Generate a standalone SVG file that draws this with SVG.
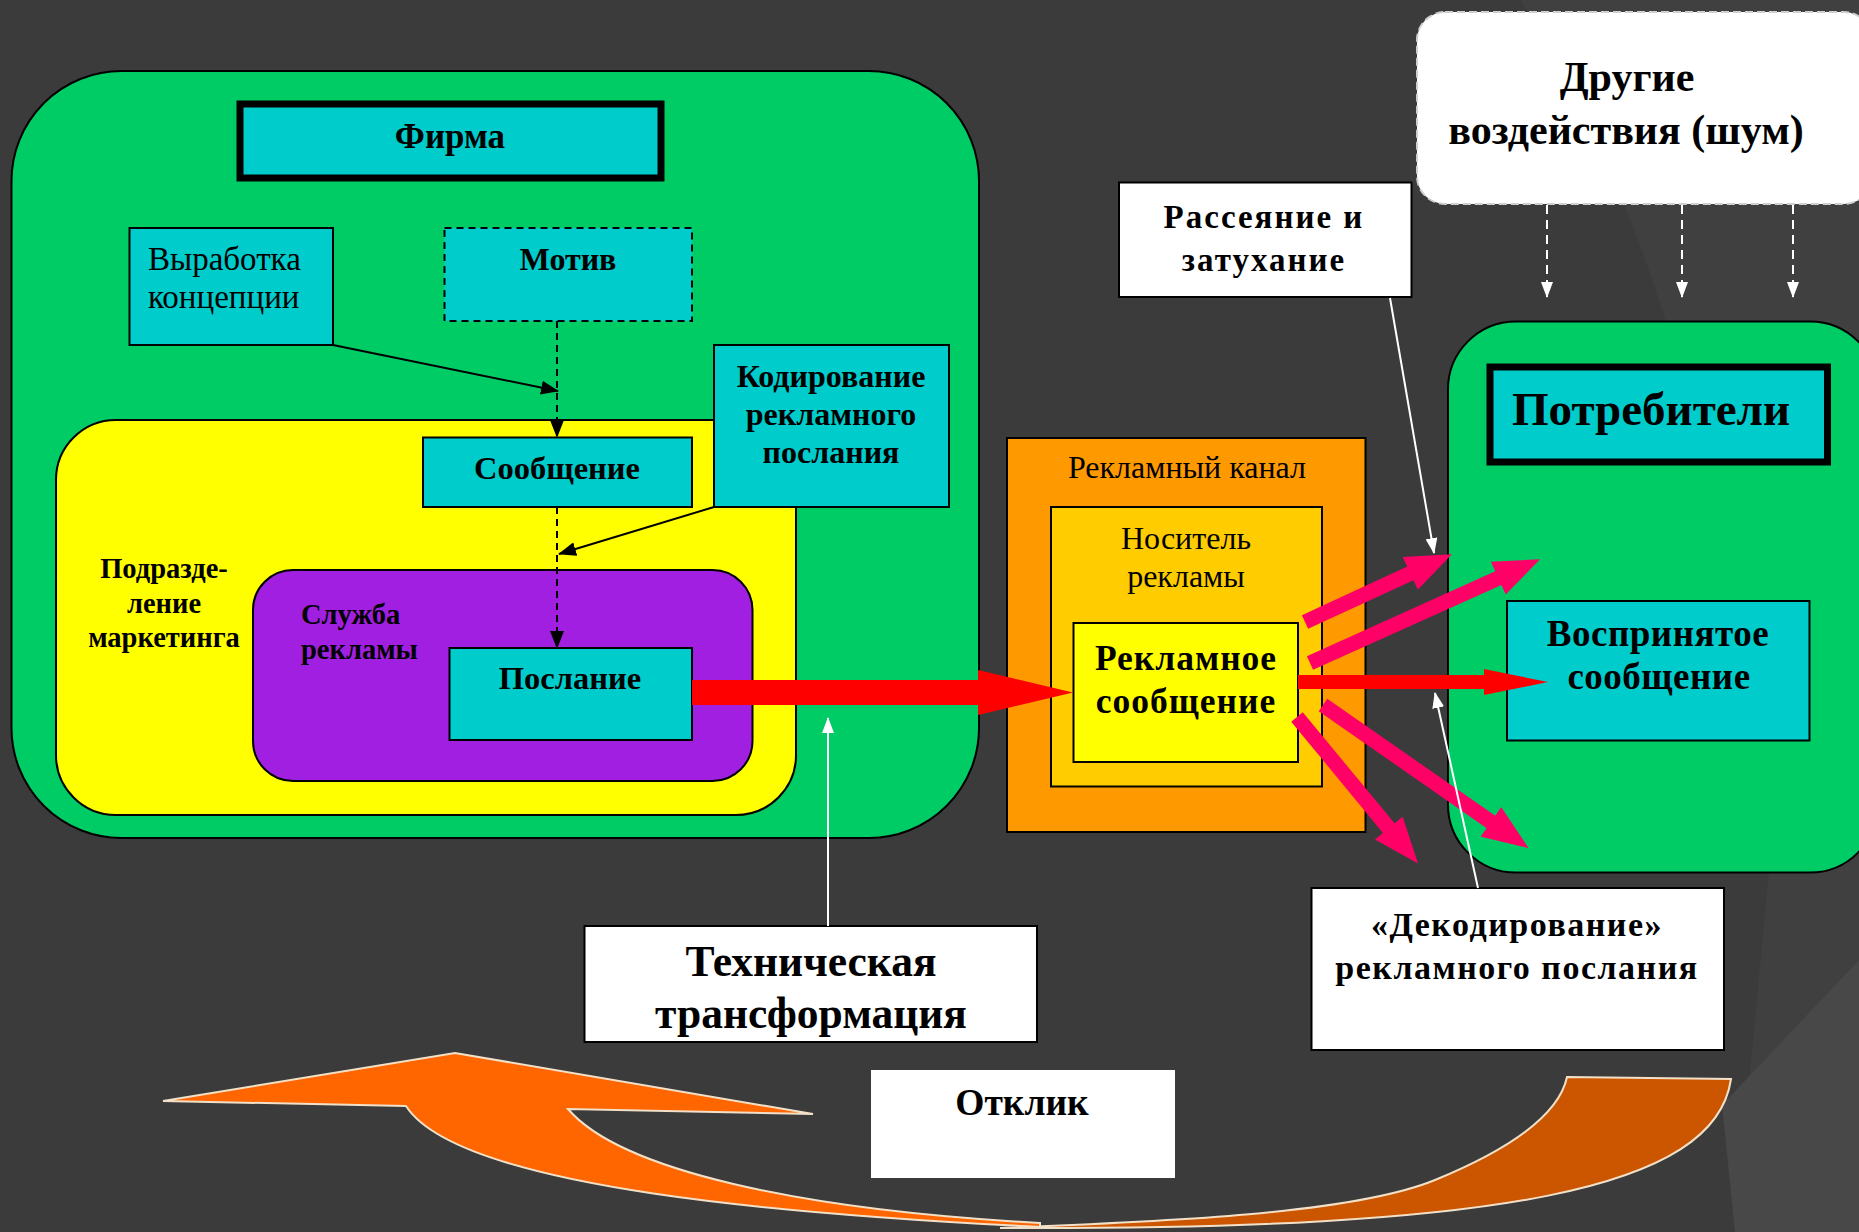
<svg xmlns="http://www.w3.org/2000/svg" width="1859" height="1232" viewBox="0 0 1859 1232">
<style>
.t{font-family:"Liberation Serif","Times New Roman",serif;fill:#000}
.b{font-weight:bold}
.m{text-anchor:middle}
.ln{stroke:#000;stroke-width:2}
.teal{fill:#00CCCC;stroke:#000;stroke-width:2}
.wbox{fill:#fff;stroke:#000;stroke-width:2}
.pink{stroke:#FF0066;stroke-width:15;fill:none}
.wl{stroke:#fff;stroke-width:2;fill:none}
</style>
<defs>
<marker id="ab" markerUnits="userSpaceOnUse" markerWidth="18" markerHeight="14" viewBox="0 0 18 14" refX="17" refY="7" orient="auto"><path d="M0,0 L18,7 L0,14 Z" fill="#000"/></marker>
<marker id="aw" markerUnits="userSpaceOnUse" markerWidth="16" markerHeight="12" viewBox="0 0 16 12" refX="15" refY="6" orient="auto"><path d="M0,0 L16,6 L0,12 Z" fill="#fff"/></marker>
<marker id="ap" markerUnits="userSpaceOnUse" markerWidth="46" markerHeight="36" viewBox="0 0 46 36" refX="2" refY="18" orient="auto"><path d="M0,0 L46,18 L0,36 Z" fill="#FF0066"/></marker>
</defs>
<g id="background">
<rect x="0" y="0" width="1859" height="1232" fill="#3b3b3b"/>
<path d="M1520,0 C1640,180 1740,500 1770,860 L1735,1232 L1859,1232 L1859,0 Z" fill="#404040"/>
<path d="M1859,960 L1722,1105 L1735,1232 L1859,1232 Z" fill="#484848"/>
</g>

<g id="firm">
<rect x="11.5" y="71" width="967.5" height="767" rx="110" ry="110" fill="#00CC66" stroke="#000" stroke-width="2"/>
</g>
<g id="firm-title">
<rect x="240" y="104" width="421" height="74" fill="#00CCCC" stroke="#000" stroke-width="7"/>
<text class="t b m" x="450" y="148" font-size="35">Фирма</text>
</g>
<g id="concept">
<rect class="teal" x="129.5" y="228" width="203.5" height="117"/>
<text class="t" x="148" y="270" font-size="33">Выработка</text>
<text class="t" x="148" y="308" font-size="33">концепции</text>
</g>
<g id="motive">
<rect x="444.5" y="228" width="247.5" height="93" fill="#00CCCC" stroke="#000" stroke-width="2" stroke-dasharray="7,5"/>
<text class="t b m" x="568" y="270" font-size="32">Мотив</text>
</g>
<g id="marketing">
<rect x="56" y="420" width="740" height="395" rx="60" ry="60" fill="#FFFF00" stroke="#000" stroke-width="2"/>
<text class="t b m" x="164" y="578" font-size="28.5">Подразде-</text>
<text class="t b m" x="164" y="613" font-size="28.5">ление</text>
<text class="t b m" x="164" y="647" font-size="28.5">маркетинга</text>
</g>
<g id="coding">
<rect class="teal" x="714" y="345" width="235" height="162"/>
<text class="t b m" x="831" y="387" font-size="32">Кодирование</text>
<text class="t b m" x="831" y="425" font-size="32">рекламного</text>
<text class="t b m" x="831" y="463" font-size="32">послания</text>
</g>
<g id="message">
<rect class="teal" x="423" y="437.5" width="269" height="69.5"/>
<text class="t b m" x="557" y="479" font-size="32.5">Сообщение</text>
</g>
<g id="ad-service">
<rect x="253" y="570" width="499.5" height="211" rx="40" ry="40" fill="#A01FE0" stroke="#000" stroke-width="2"/>
<text class="t b" x="301" y="624" font-size="28.5">Служба</text>
<text class="t b" x="301" y="659" font-size="28.5">рекламы</text>
</g>
<g id="poslanie">
<rect class="teal" x="449.5" y="648" width="242.5" height="92"/>
<text class="t b m" x="570" y="689" font-size="32.5">Послание</text>
</g>

<g id="channel">
<rect x="1007" y="438" width="358.5" height="394" fill="#FF9900" stroke="#000" stroke-width="2"/>
<text class="t m" x="1187" y="478" font-size="32">Рекламный канал</text>
</g>
<g id="carrier">
<rect x="1051" y="507" width="271" height="279.5" fill="#FFCC00" stroke="#000" stroke-width="2"/>
<text class="t m" x="1186" y="549" font-size="32">Носитель</text>
<text class="t m" x="1186" y="587" font-size="32">рекламы</text>
</g>
<g id="ad-message">
<rect x="1073.5" y="623" width="224.5" height="139" fill="#FFFF00" stroke="#000" stroke-width="2"/>
<text class="t b m" x="1186" y="670" font-size="35.5" letter-spacing="1">Рекламное</text>
<text class="t b m" x="1186" y="713" font-size="35.5" letter-spacing="1">сообщение</text>
</g>

<g id="scatter">
<rect class="wbox" x="1119" y="182.5" width="292.5" height="114.5"/>
<text class="t b m" x="1264" y="228" font-size="33" letter-spacing="2">Рассеяние и</text>
<text class="t b m" x="1264" y="271" font-size="33" letter-spacing="2">затухание</text>
</g>
<g id="noise">
<rect x="1417" y="12" width="455" height="192" rx="28" ry="28" fill="#fff" stroke="#cfcfcf" stroke-width="2" stroke-dasharray="8,4"/>
<text class="t b m" x="1627" y="91" font-size="42">Другие</text>
<text class="t b m" x="1626" y="144" font-size="42">воздействия (шум)</text>
</g>
<g id="consumers">
<rect x="1448" y="321.5" width="430" height="551" rx="68" ry="68" fill="#00CC66" stroke="#000" stroke-width="2"/>
</g>
<g id="consumers-title">
<rect x="1490" y="367" width="337.5" height="95" fill="#00CCCC" stroke="#000" stroke-width="7"/>
<text class="t b m" x="1651" y="425" font-size="47">Потребители</text>
</g>
<g id="perceived">
<rect class="teal" x="1507" y="601" width="302.5" height="139.5"/>
<text class="t b m" x="1658" y="646" font-size="37" letter-spacing="0.5">Воспринятое</text>
<text class="t b m" x="1659" y="689" font-size="37" letter-spacing="0.5">сообщение</text>
</g>

<g id="tech">
<rect class="wbox" x="584.5" y="926" width="452.5" height="116"/>
<text class="t b m" x="811" y="976" font-size="43.5">Техническая</text>
<text class="t b m" x="811" y="1028" font-size="43.5">трансформация</text>
</g>
<g id="decoding">
<rect class="wbox" x="1311.5" y="888" width="412.5" height="162"/>
<text class="t b m" x="1517" y="936" font-size="34" letter-spacing="1.5">«Декодирование»</text>
<text class="t b m" x="1517" y="979" font-size="34" letter-spacing="1.5">рекламного  послания</text>
</g>
<g id="response">
<rect x="871" y="1070" width="304" height="108" fill="#fff"/>
<text class="t b m" x="1022" y="1115" font-size="37.5">Отклик</text>
</g>

<g id="connectors">
<line class="ln" x1="333" y1="345" x2="558" y2="391" marker-end="url(#ab)"/>
<line class="ln" x1="714" y1="507" x2="559" y2="554" marker-end="url(#ab)"/>
<line class="ln" x1="557" y1="321" x2="557" y2="437" stroke-dasharray="7,5" marker-end="url(#ab)"/>
<line class="ln" x1="557" y1="507" x2="557" y2="648" stroke-dasharray="7,5" marker-end="url(#ab)"/>
<path d="M692,680 L978,680 L978,670 L1073,692.5 L978,715 L978,705 L692,705 Z" fill="#FF0000"/>
<path d="M1298,675 L1484,675 L1484,669 L1548,682 L1484,695 L1484,689 L1298,689 Z" fill="#FF0000"/>
<line class="pink" x1="1305" y1="622" x2="1412" y2="572.6" marker-end="url(#ap)"/>
<line class="pink" x1="1310" y1="663" x2="1500" y2="577.3" marker-end="url(#ap)"/>
<line class="pink" x1="1297" y1="717" x2="1390" y2="829.6" marker-end="url(#ap)"/>
<line class="pink" x1="1323" y1="705" x2="1492.5" y2="823" marker-end="url(#ap)"/>
<line class="wl" x1="828" y1="926" x2="828" y2="718" marker-end="url(#aw)"/>
<line class="wl" x1="1390" y1="298" x2="1434" y2="553" marker-end="url(#aw)"/>
<line class="wl" x1="1478" y1="888" x2="1435" y2="693" marker-end="url(#aw)"/>
<line class="wl" x1="1547" y1="205" x2="1547" y2="297" stroke-dasharray="9,6" marker-end="url(#aw)"/>
<line class="wl" x1="1682" y1="205" x2="1682" y2="297" stroke-dasharray="9,6" marker-end="url(#aw)"/>
<line class="wl" x1="1793" y1="205" x2="1793" y2="297" stroke-dasharray="9,6" marker-end="url(#aw)"/>
</g>

<g id="feedback-arrow">
<path d="M1567,1077 L1731,1079 C1715,1190 1500,1230 1000,1228 C1150,1222 1350,1215 1435,1180 C1520,1145 1560,1110 1567,1077 Z" fill="#CC5500" stroke="#f3e0c8" stroke-width="2"/>
<path d="M1040,1227 C800,1215 460,1190 406,1106 L163,1101 L455,1053 L813,1114 L568,1109 C620,1170 800,1210 1040,1223 Z" fill="#FF6600" stroke="#f3e0c8" stroke-width="2"/>
</g>
</svg>
